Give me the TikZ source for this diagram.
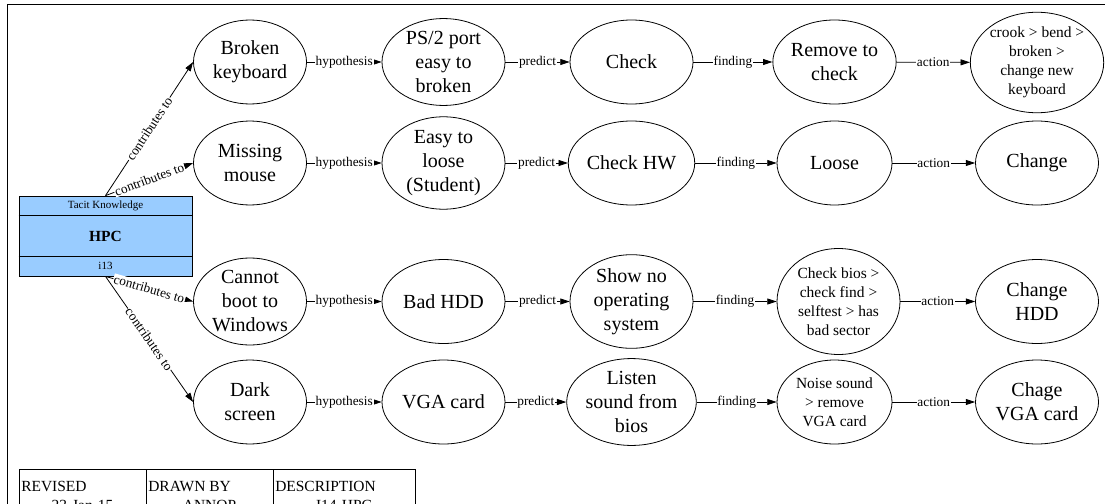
\documentclass[tikz,border=0pt]{standalone}
\usepackage{fontspec}
\setmainfont{Liberation Serif}
\usetikzlibrary{arrows.meta,shapes.geometric}
\definecolor{tacitblue}{RGB}{153,204,255}
\tikzset{
  concept/.style={draw, ellipse, line width=0.6pt, inner sep=0pt, align=center,
    font=\fontsize{15}{18}\selectfont, minimum width=92.25pt, minimum height=63pt},
  narrow/.style={minimum width=84.75pt},
  mid/.style={minimum width=86.25pt},
  smalltext/.style={font=\fontsize{11.6}{14.25}\selectfont},
  link/.style={draw, line width=0.6pt, -{Triangle[length=7pt,width=4.5pt]}},
  linklabel/.style={fill=white, inner sep=0.6pt, font=\fontsize{10}{12}\selectfont},
  cellhead/.style={anchor=base west, inner sep=0pt, font=\fontsize{11.6}{14}\selectfont},
  cellvalue/.style={anchor=base, inner sep=0pt, font=\fontsize{11.6}{14}\selectfont},
}
\begin{document}
\begin{tikzpicture}[x=0.75pt,y=-0.75pt]
\useasboundingbox (0,0) rectangle (1105,503);
\clip (0,0) rectangle (1105,503);

% sheet frame
\draw[line width=0.75pt] (7,540) -- (7,5) -- (1120,5);

% knowledge record
\node[draw, fill=tacitblue, line width=0.6pt, minimum width=129.75pt, minimum height=60pt, inner sep=0pt] (hpc) at (105.5,236) {};
\draw[line width=0.6pt] ([yshift=-15pt]hpc.north west) -- ([yshift=-15pt]hpc.north east);
\draw[line width=0.6pt] ([yshift=15pt]hpc.south west) -- ([yshift=15pt]hpc.south east);
\node[font=\fontsize{8.25}{10}\selectfont] (tacit) at (105.5,206) {Tacit Knowledge};
\node[font=\bfseries\fontsize{11.6}{14}\selectfont] (hpcname) at (105.5,236) {HPC};
\node[font=\fontsize{8.25}{10}\selectfont] (hpcid) at (105.5,266) {i13};

% row 1
\node[concept, narrow] (bk) at (250,62) {Broken\\keyboard};
\node[concept] (ps2) at (443.5,62) {PS/2 port\\easy to\\broken};
\node[concept] (chk) at (631.5,62) {Check};
\node[concept, mid] (rem) at (834.5,62) {Remove to\\check};
\node[concept, smalltext, minimum width=93pt, minimum height=64.5pt] (crook) at (1037,62.5) {crook > bend >\\broken >\\change new\\keyboard};

% row 2
\node[concept, narrow] (mm) at (250,163) {Missing\\mouse};
\node[concept] (easy) at (443.5,163) {Easy to\\loose\\(Student)};
\node[concept] (chkhw) at (631.5,163) {Check HW};
\node[concept, mid] (loose) at (834.5,163) {Loose};
\node[concept] (chg) at (1037,163) {Change};

% row 3
\node[concept, narrow] (cb) at (250,301.5) {Cannot\\boot to\\Windows};
\node[concept] (bad) at (443.5,301.5) {Bad HDD};
\node[concept] (show) at (631.5,301.5) {Show no\\operating\\system};
\node[concept, smalltext, minimum height=79.5pt] (bios) at (838.5,301.5) {Check bios >\\check find >\\selftest > has\\bad sector};
\node[concept] (chghdd) at (1037,301.5) {Change\\HDD};

% row 4
\node[concept, narrow] (ds) at (250,402) {Dark\\screen};
\node[concept] (vga) at (443.5,402) {VGA card};
\node[concept] (listen) at (631.5,402) {Listen\\sound from\\bios};
\node[concept, smalltext, mid] (noise) at (834.5,402) {Noise sound\\> remove\\VGA card};
\node[concept] (chgvga) at (1037,402) {Chage\\VGA card};

% chains
\draw[link] (bk) -- node[linklabel]{hypothesis} (ps2);
\draw[link] (ps2) -- node[linklabel]{predict} (chk);
\draw[link] (chk) -- node[linklabel]{finding} (rem);
\draw[link] (rem) -- node[linklabel]{action} (crook);

\draw[link] (mm) -- node[linklabel]{hypothesis} (easy);
\draw[link] (easy) -- node[linklabel]{predict} (chkhw);
\draw[link] (chkhw) -- node[linklabel]{finding} (loose);
\draw[link] (loose) -- node[linklabel]{action} (chg);

\draw[link] (cb) -- node[linklabel]{hypothesis} (bad);
\draw[link] (bad) -- node[linklabel]{predict} (show);
\draw[link] (show) -- node[linklabel]{finding} (bios);
\draw[link] (bios) -- node[linklabel]{action} (chghdd);

\draw[link] (ds) -- node[linklabel]{hypothesis} (vga);
\draw[link] (vga) -- node[linklabel]{predict} (listen);
\draw[link] (listen) -- node[linklabel]{finding} (noise);
\draw[link] (noise) -- node[linklabel]{action} (chgvga);

% record to problems
\draw[link] (hpc.north) -- node[linklabel, sloped]{contributes to} (bk.west);
\draw[link] (hpc.north) -- node[linklabel, sloped]{contributes to} (mm.west);
\draw[link] (hpc.south) -- node[linklabel, sloped]{contributes to} (cb.west);
\draw[link] (hpc.south) -- node[linklabel, sloped]{contributes to} (ds.west);

% title block
\draw[line width=0.6pt] (19,469) rectangle (415,540);
\draw[line width=0.6pt] (146,469) -- (146,540);
\draw[line width=0.6pt] (273,469) -- (273,540);
\node[cellhead] (revh) at (21,491) {REVISED};
\node[cellvalue] (revv) at (82.5,510) {23-Jan-15};
\node[cellhead] (drwh) at (148,491) {DRAWN BY};
\node[cellvalue] (drwv) at (209.5,510) {ANNOP};
\node[cellhead] (desh) at (275,491) {DESCRIPTION};
\node[cellvalue] (desv) at (344,510) {I14-HPC};
\end{tikzpicture}
\end{document}
